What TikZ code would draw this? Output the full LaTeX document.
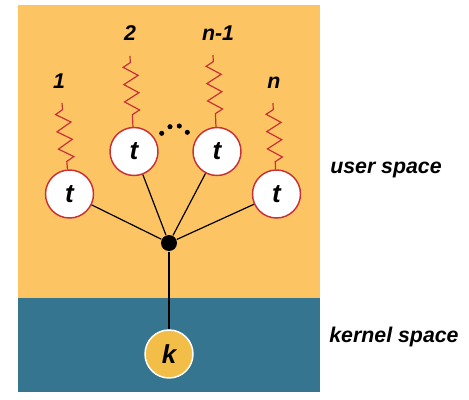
\documentclass[tikz,border=0pt]{standalone}
\usepackage{fontspec}
\setmainfont{Liberation Sans}
\usetikzlibrary{decorations.pathmorphing}
\definecolor{userbg}{RGB}{253,196,99}
\definecolor{kernbg}{RGB}{54,117,144}
\definecolor{wire}{RGB}{200,50,55}
\definecolor{kfill}{RGB}{243,190,72}
\newcommand{\lbl}{\bfseries\itshape\fontsize{16}{19}\selectfont}
\newcommand{\ltr}{\bfseries\itshape\fontsize{19.5}{22}\selectfont}
\tikzset{
  thread/.style={circle,draw=wire,fill=white,line width=1.1pt,minimum size=36pt,inner sep=0pt,font=\ltr},
  kern/.style={circle,draw=white,fill=kfill,line width=1.1pt,minimum size=36pt,inner sep=0pt,font=\ltr},
  hub/.style={circle,fill=black,minimum size=12pt,inner sep=0pt},
  pt/.style={circle,fill=black,minimum size=3.8pt,inner sep=0pt},
  spring/.style={draw=wire,line width=0.9pt,decorate,
    decoration={zigzag,segment length=13pt,amplitude=5.5pt,pre length=5pt,post length=4pt,mirror}},
  tag/.style={anchor=base,inner sep=0pt}
}
\begin{document}
\begin{tikzpicture}[x=0.75pt,y=-0.75pt,font=\lbl,line width=0.9pt]
\useasboundingbox (0,0) rectangle (469,400);
% user and kernel areas
\fill[userbg] (18,5) rectangle (320,298);
\fill[kernbg] (18,298) rectangle (320,392);
% threads
\node[thread] (t1) at (69.5,194) {t};
\node[thread] (t2) at (134,151.5) {t};
\node[thread] (t3) at (217,151.5) {t};
\node[thread] (t4) at (276.5,194) {t};
\node[hub] (j) at (169,243) {};
\node[kern] (k) at (169,354) {k};
\foreach\i in {t1,t2,t3,t4}\draw (\i)--(j);
\draw (j)--(k);
% springs
\coordinate (s1) at (62,103);\coordinate (s2) at (130,56);
\coordinate (s3) at (213,55);\coordinate (s4) at (273,103);
\foreach\i in {1,...,4}\draw[spring] (s\i)--(t\i);
% labels
\node[tag] (l1) at (59,88) {1};
\node[tag] (l2) at (130,40) {2};
\node[tag] (l3) at (218,40) {n-1};
\node[tag] (l4) at (274,88) {n};
\node[tag] (us) at (386,173) {user space};
\node[tag] (ks) at (394,342) {kernel space};
% dots
\foreach\p [count=\c] in {(161.7,133.3),(170,126.7),(179.3,126),(187.3,132.3)}
  \node[pt] (d\c) at \p {};
\end{tikzpicture}
\end{document}
